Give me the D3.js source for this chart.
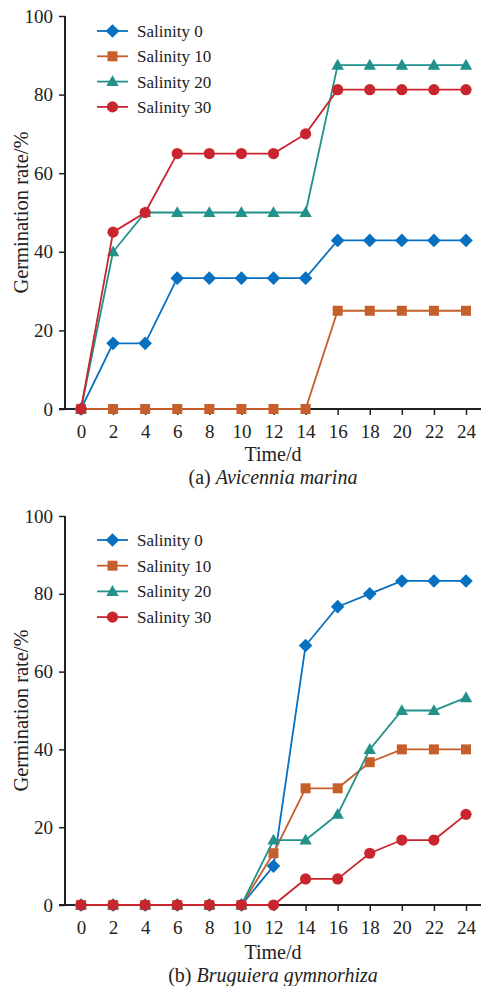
<!DOCTYPE html>
<html><head><meta charset="utf-8">
<script src="https://cdn.jsdelivr.net/npm/d3@7"></script>
<style>body{margin:0;background:#fff}svg{display:block}text{font-family:"Liberation Serif","Times New Roman",serif;fill:#222}</style>
</head><body><svg id="c" width="482" height="986"></svg>
<script>
const days = [0,2,4,6,8,10,12,14,16,18,20,22,24];
const xTicks = [0,2,4,6,8,10,12,14,16,18,20,22,24];
const yTicks = [0,20,40,60,80,100];
const seriesNames = ["Salinity 0","Salinity 10","Salinity 20","Salinity 30"];
const colors = ["#0870c0","#c55f2b","#22918a","#c9252f"];
const symbolsList = ["diamond","square","triangle","circle"];

// (a) Avicennia marina
const a_s0  = [0,16.7,16.7,33.3,33.3,33.3,33.3,33.3,42.9,42.9,42.9,42.9,42.9];
const a_s10 = [0,0,0,0,0,0,0,0,25,25,25,25,25];
const a_s20 = [0,40,50,50,50,50,50,50,87.5,87.5,87.5,87.5,87.5];
const a_s30 = [0,45,50,65,65,65,65,70,81.25,81.25,81.25,81.25,81.25];
// (b) Bruguiera gymnorhiza
const b_s0  = [0,0,0,0,0,0,10,66.7,76.7,80,83.3,83.3,83.3];
const b_s10 = [0,0,0,0,0,0,13.3,30,30,36.7,40,40,40];
const b_s20 = [0,0,0,0,0,0,16.7,16.7,23.3,40,50,50,53.3];
const b_s30 = [0,0,0,0,0,0,0,6.7,6.7,13.3,16.7,16.7,23.3];

const svg = d3.select("#c");
const FONT = '"Liberation Serif","Times New Roman",serif';

function marker(g, type, x, y, color){
  if(type==="diamond"){
    g.append("path").attr("d",`M${x},${y-6.8}L${x+6.8},${y}L${x},${y+6.8}L${x-6.8},${y}Z`).attr("fill",color);
  } else if(type==="square"){
    g.append("rect").attr("x",x-5).attr("y",y-5).attr("width",10).attr("height",10).attr("fill",color);
  } else if(type==="triangle"){
    g.append("path").attr("d",`M${x},${y-6.3}L${x+6.2},${y+4.5}L${x-6.2},${y+4.5}Z`).attr("fill",color);
  } else {
    g.append("circle").attr("cx",x).attr("cy",y).attr("r",5.6).attr("fill",color);
  }
}

function panel(top, bottom, data, caption, legendTop, legendStep, offT, offC){
  const x = d3.scaleLinear().domain([0,24]).range([81,466]);
  const y = d3.scaleLinear().domain([0,100]).range([bottom, top]);
  const g = svg.append("g");
  // y axis
  const ya = g.append("g").attr("transform","translate(65,0)")
    .call(d3.axisLeft(y).tickValues(yTicks).tickSize(6).tickSizeOuter(0).tickPadding(6));
  ya.select(".domain").remove();
  ya.selectAll("line").attr("stroke","#222").attr("stroke-width",1.5);
  ya.selectAll("text").style("font-size","19px").attr("fill","#222").style("font-family",FONT);
  g.append("line").attr("x1",65).attr("x2",65).attr("y1",top).attr("y2",bottom).attr("stroke","#222").attr("stroke-width",2);
  // x axis
  const xa = g.append("g").attr("transform",`translate(0,${bottom})`)
    .call(d3.axisBottom(x).tickValues(xTicks).tickSize(6).tickSizeOuter(0).tickPadding(10));
  xa.select(".domain").remove();
  xa.selectAll("line").attr("stroke","#222").attr("stroke-width",1.5);
  xa.selectAll("text").style("font-size","19px").attr("fill","#222").style("font-family",FONT);
  g.append("line").attr("x1",59).attr("x2",481).attr("y1",bottom).attr("y2",bottom).attr("stroke","#222").attr("stroke-width",2);
  // labels
  g.append("text").attr("transform",`translate(28,${(top+bottom)/2}) rotate(-90)`).attr("text-anchor","middle")
    .style("font-size","20.5px").text("Germination rate/%");
  g.append("text").attr("x",273).attr("y",bottom+offT).attr("text-anchor","middle").style("font-size","20px").text("Time/d");
  const cap = g.append("text").attr("x",273).attr("y",bottom+offC).attr("text-anchor","middle").style("font-size","20px");
  cap.append("tspan").text(caption[0] + " ");
  cap.append("tspan").style("font-style","italic").text(caption[1]);
  // series
  const line = d3.line().x((d,i)=>x(days[i])).y(d=>y(d));
  data.forEach((vals,k)=>{
    const sg = g.append("g");
    sg.append("path").attr("d",line(vals)).attr("fill","none").attr("stroke",colors[k]).attr("stroke-width",1.8);
    vals.forEach((v,i)=>marker(sg, symbolsList[k], x(days[i]), y(v), colors[k]));
  });
  // legend
  seriesNames.forEach((n,k)=>{
    const ly = legendTop + k*legendStep;
    const lg = g.append("g");
    lg.append("line").attr("x1",97).attr("x2",128).attr("y1",ly).attr("y2",ly).attr("stroke",colors[k]).attr("stroke-width",1.8);
    marker(lg, symbolsList[k], 112.5, ly, colors[k]);
    lg.append("text").attr("x",137).attr("y",ly+6).style("font-size","17px").text(n);
  });
}

panel(16, 409, [a_s0,a_s10,a_s20,a_s30], ["(a)","Avicennia marina"], 31, 25.3, 52, 75);
panel(516, 905, [b_s0,b_s10,b_s20,b_s30], ["(b)","Bruguiera gymnorhiza"], 540, 25.7, 54, 77);
</script></body></html>
